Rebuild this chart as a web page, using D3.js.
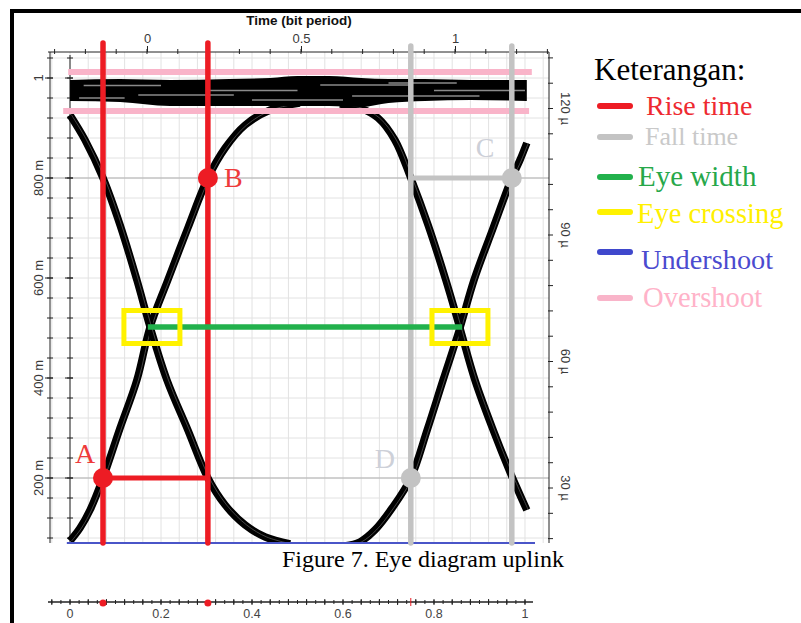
<!DOCTYPE html>
<html><head><meta charset="utf-8">
<script src="https://cdn.jsdelivr.net/npm/d3@7"></script>
<style>body{margin:0;background:#fff}svg{display:block}</style>
</head><body>
<script>
// ---------- data ----------
const bottomTickValues = [0, 0.2, 0.4, 0.6, 0.8, 1];
const topTickValues = [0, 0.5, 1];
const topTitle = "Time (bit period)";
const leftTickValues = [1, 0.8, 0.6, 0.4, 0.2];
const leftTickLabels = ["1", "800 m", "600 m", "400 m", "200 m"];
const rightTickValues = [120, 90, 60, 30];
const rightTickLabels = ["120 µ", "90 µ", "60 µ", "30 µ"];

// eye traces (time in bit-axis units, amplitude in volts)
const rise1T = [0, 0.022, 0.044, 0.0725, 0.110, 0.147, 0.176, 0.215, 0.259, 0.303, 0.341, 0.385, 0.440, 0.505];
const rise1V = [0.074, 0.100, 0.136, 0.200, 0.300, 0.396, 0.502, 0.596, 0.700, 0.800, 0.860, 0.906, 0.936, 0.950];
const fall1T = [0, 0.033, 0.0725, 0.110, 0.147, 0.176, 0.213, 0.259, 0.303, 0.341, 0.385, 0.429, 0.484];
const fall1V = [0.926, 0.876, 0.800, 0.706, 0.596, 0.502, 0.396, 0.296, 0.200, 0.146, 0.106, 0.082, 0.068];
const rise2T = [0.604, 0.637, 0.670, 0.708, 0.749, 0.785, 0.820, 0.857, 0.888, 0.930, 0.971, 0.989, 1.004];
const rise2V = [0.064, 0.072, 0.096, 0.140, 0.200, 0.296, 0.396, 0.500, 0.596, 0.700, 0.800, 0.836, 0.870];
const fall2T = [0.593, 0.637, 0.677, 0.714, 0.749, 0.787, 0.826, 0.857, 0.890, 0.930, 0.967, 1.004];
const fall2V = [0.948, 0.940, 0.920, 0.876, 0.800, 0.706, 0.596, 0.500, 0.396, 0.296, 0.212, 0.136];

const bandT     = [0, 0.11, 0.22, 0.35, 0.44, 0.50, 0.57, 0.64, 0.70, 0.78, 0.88, 1.004];
const bandUpper = [0.996, 0.998, 0.996, 0.998, 1.000, 1.004, 1.004, 1.000, 0.998, 0.998, 0.996, 0.996];
const bandLower = [0.954, 0.952, 0.944, 0.944, 0.944, 0.944, 0.944, 0.942, 0.950, 0.954, 0.956, 0.954];
const streakStart = [0.03, 0.15, 0.30, 0.55, 0.62, 0.80, 0.02, 0.40, 0.70];
const streakEnd   = [0.20, 0.36, 0.50, 0.75, 0.90, 1.00, 0.12, 0.60, 0.85];
const streakV     = [0.985, 0.966, 0.975, 0.986, 0.964, 0.975, 0.960, 0.956, 0.990];

// measurement markers
const riseTimeT = [0.0725, 0.303];
const fallTimeT = [0.749, 0.971];
const lowRef = 0.2, highRef = 0.8;
const crossingT = [0.171, 0.862];
const crossBoxT = [0.180, 0.857];
const crossingV = 0.502;
const overshootV = [1.012, 0.934];
const overshootStart = [-0.004, -0.015];
const overshootEnd = [1.015, 1.009];
const undershootV = 0.07;
const markerTop = 1.07;

const legendTitle = "Keterangan:";
const legendLabels = ["Rise time", "Fall time", "Eye width", "Eye crossing", "Undershoot", "Overshoot"];
const caption = "Figure 7. Eye diagram uplink";

// ---------- styles ----------
const C = {red:"#ed1c24", gray:"#c3c3c3", green:"#22b14c", yellow:"#fff200", blue:"#3f48cc", pink:"#f9b4c9"};
const legendColors = [C.red, C.gray, C.green, C.yellow, C.blue, C.pink];
const legendTextColors = ["#ee2a30", "#c9c9c9", "#27a84a", "#fff000", "#4b4bcf", "#ffb3c9"];

const W = 801, H = 623;
const svg = d3.select("body").append("svg").attr("width", W).attr("height", H);
const sans = "'Liberation Sans', Arial, sans-serif";
const serif = "'Liberation Serif', 'Times New Roman', serif";

// scales
const xB = d3.scaleLinear().domain([-0.0484, 1.0176]).range([48, 533]);
const xT = d3.scaleLinear().domain([-0.3214, 1.3052]).range([48, 549]);
const yL = d3.scaleLinear().domain([0.07, 1.052]).range([543, 52]);
const yR = d3.scaleLinear().domain([16.96, 133.4]).range([543, 52]);
const plot = {x0: 50, x1: 549, y0: 52, y1: 543};

// outer frame
svg.append("line").attr("x1", 10).attr("x2", W).attr("y1", 11).attr("y2", 11).attr("stroke", "#000").attr("stroke-width", 4);
svg.append("line").attr("x1", 12).attr("x2", 12).attr("y1", 9).attr("y2", H).attr("stroke", "#000").attr("stroke-width", 4);

// grid
const gGrid = svg.append("g");
const vGrid = d3.range(-1, 27).map(i => i * 0.04);
gGrid.selectAll("line.v").data(vGrid).join("line")
  .attr("x1", d => xB(d)).attr("x2", d => xB(d)).attr("y1", plot.y0).attr("y2", plot.y1)
  .attr("stroke", "#e2e2e2").attr("stroke-width", 1);
const hGrid = d3.range(2, 27).map(i => i * 0.04);
gGrid.selectAll("line.h").data(hGrid).join("line")
  .attr("x1", plot.x0).attr("x2", plot.x1).attr("y1", d => yL(d)).attr("y2", d => yL(d))
  .attr("stroke", "#e2e2e2").attr("stroke-width", 1);
gGrid.selectAll("line.ref").data([lowRef, highRef]).join("line")
  .attr("x1", plot.x0).attr("x2", plot.x1).attr("y1", d => yL(d)).attr("y2", d => yL(d))
  .attr("stroke", "#b0b0b0").attr("stroke-width", 1);

// axes
const axisColor = "#222";
const labelColor = "#3a3a3a";
// top
const gTop = svg.append("g").attr("transform", `translate(0,${plot.y0})`);
gTop.call(d3.axisTop(xT).tickValues(topTickValues).tickSize(6).tickFormat(d3.format("")))
  .call(g => g.select(".domain").attr("stroke", axisColor).attr("d", `M${xT.range()[0]},0H${xT.range()[1]}`))
  .call(g => g.selectAll(".tick line").attr("stroke", axisColor))
  .call(g => g.selectAll(".tick text").attr("font-family", sans).attr("font-size", 13).attr("fill", labelColor).attr("y", -9));
gTop.selectAll("line.minor").data(d3.range(-3, 14).map(i => i / 10)).join("line")
  .attr("x1", d => xT(d)).attr("x2", d => xT(d)).attr("y1", -3).attr("y2", 2).attr("stroke", axisColor);
svg.append("text").attr("x", 299).attr("y", 25).attr("text-anchor", "middle")
  .attr("font-family", sans).attr("font-weight", "bold").attr("font-size", 13.5).attr("fill", "#111").text(topTitle);

// left (outer + inner)
const leftTicks = d3.range(2, 27).map(i => i * 0.04);
[50, 70].forEach((x, k) => {
  const g = svg.append("g");
  g.append("line").attr("x1", x).attr("x2", x).attr("y1", k ? 55 : plot.y0).attr("y2", plot.y1).attr("stroke", axisColor);
  g.selectAll("line.t").data(leftTicks).join("line")
    .attr("x1", x - 3).attr("x2", x + 3).attr("y1", d => yL(d)).attr("y2", d => yL(d)).attr("stroke", axisColor);
  g.selectAll("line.m").data(leftTickValues).join("line")
    .attr("x1", x - 5).attr("x2", x + 3).attr("y1", d => yL(d)).attr("y2", d => yL(d)).attr("stroke", axisColor);
});
svg.append("g").selectAll("text").data(leftTickValues).join("text")
  .attr("transform", d => `translate(38,${yL(d)}) rotate(-90)`)
  .attr("text-anchor", "middle").attr("dy", "0.35em")
  .attr("font-family", sans).attr("font-size", 13).attr("fill", labelColor)
  .text((d, i) => leftTickLabels[i]);

// right
const gRight = svg.append("g");
gRight.append("line").attr("x1", plot.x1).attr("x2", plot.x1).attr("y1", plot.y0).attr("y2", plot.y1).attr("stroke", axisColor);
gRight.selectAll("line.t").data(d3.range(3, 23).map(i => i * 6)).join("line")
  .attr("x1", plot.x1 - 1).attr("x2", plot.x1 + 4).attr("y1", d => yR(d)).attr("y2", d => yR(d)).attr("stroke", axisColor);
gRight.selectAll("text").data(rightTickValues).join("text")
  .attr("transform", d => `translate(566,${yR(d)}) rotate(90)`)
  .attr("text-anchor", "middle").attr("dy", "0.35em")
  .attr("font-family", sans).attr("font-size", 13).attr("fill", labelColor)
  .text((d, i) => rightTickLabels[i]);

// bottom axis (separate strip)
const gBot = svg.append("g").attr("transform", "translate(0,602)");
gBot.append("line").attr("x1", 48).attr("x2", 533).attr("y1", 0).attr("y2", 0).attr("stroke", axisColor).attr("stroke-width", 1.5);
gBot.selectAll("line.t").data(d3.range(-2, 51).map(i => i * 0.02)).join("line")
  .attr("x1", d => xB(d)).attr("x2", d => xB(d)).attr("y1", -2).attr("y2", 2).attr("stroke", axisColor);
gBot.selectAll("line.m").data(d3.range(-1, 26).map(i => i * 0.04)).join("line")
  .attr("x1", d => xB(d)).attr("x2", d => xB(d)).attr("y1", -3).attr("y2", 3).attr("stroke", axisColor);
gBot.selectAll("text").data(bottomTickValues).join("text")
  .attr("x", d => xB(d)).attr("y", 15.5).attr("text-anchor", "middle")
  .attr("font-family", sans).attr("font-size", 12.5).attr("fill", "#444")
  .text(d => d3.format("")(d));
gBot.selectAll("circle").data(riseTimeT).join("circle")
  .attr("cx", d => xB(d)).attr("cy", 1).attr("r", 3.5).attr("fill", C.red);
gBot.append("line").attr("x1", xB(fallTimeT[0])).attr("x2", xB(fallTimeT[0])).attr("y1", -4).attr("y2", 4).attr("stroke", C.red).attr("stroke-width", 1);

// ---------- eye traces ----------
svg.append("clipPath").attr("id", "clip").append("rect")
  .attr("x", plot.x0).attr("y", plot.y0).attr("width", plot.x1 - plot.x0).attr("height", plot.y1 - plot.y0);
const gEye = svg.append("g").attr("clip-path", "url(#clip)");
const line = d3.line().x(d => xB(d[0])).y(d => yL(d[1])).curve(d3.curveCatmullRom);
const traces = [[rise1T, rise1V], [fall1T, fall1V], [rise2T, rise2V], [fall2T, fall2V]];
traces.forEach(([T, V]) => {
  const pts = T.map((t, i) => [t, V[i]]);
  gEye.append("path").attr("d", line(pts)).attr("fill", "none").attr("stroke", "#000").attr("stroke-width", 7.5);
  gEye.append("path").attr("d", line(pts)).attr("fill", "none").attr("stroke", "#555").attr("stroke-width", 0.8)
    .attr("transform", "translate(1.5,0)");
});
const area = d3.area().x(d => xB(d[0])).y0(d => yL(d[1])).y1(d => yL(d[2])).curve(d3.curveMonotoneX);
gEye.append("path").attr("d", area(bandT.map((t, i) => [t, bandLower[i], bandUpper[i]]))).attr("fill", "#000");
gEye.selectAll("line.streak").data(streakV).join("line")
  .attr("x1", (d, i) => xB(streakStart[i])).attr("x2", (d, i) => xB(streakEnd[i]))
  .attr("y1", d => yL(d)).attr("y2", d => yL(d)).attr("stroke", "#8a8a8a").attr("stroke-width", 1.6);

// ---------- measurement overlays ----------
const gM = svg.append("g");
// overshoot
gM.selectAll("line.os").data(overshootV).join("line")
  .attr("x1", (d, i) => xB(overshootStart[i])).attr("x2", (d, i) => xB(overshootEnd[i]))
  .attr("y1", d => yL(d)).attr("y2", d => yL(d)).attr("stroke", C.pink).attr("stroke-width", 6);
// undershoot
gM.append("line").attr("x1", xB(-0.007)).attr("x2", xB(1.022)).attr("y1", yL(undershootV)).attr("y2", yL(undershootV))
  .attr("stroke", "#4a55c8").attr("stroke-width", 2);
// rise time
gM.selectAll("line.rt").data(riseTimeT).join("line")
  .attr("x1", d => xB(d)).attr("x2", d => xB(d)).attr("y1", yL(markerTop)).attr("y2", yL(undershootV))
  .attr("stroke", C.red).attr("stroke-width", 5.5).attr("stroke-linecap", "round");
gM.append("line").attr("x1", xB(riseTimeT[0])).attr("x2", xB(riseTimeT[1])).attr("y1", yL(lowRef)).attr("y2", yL(lowRef))
  .attr("stroke", C.red).attr("stroke-width", 5);
// fall time
gM.selectAll("line.ft").data(fallTimeT).join("line")
  .attr("x1", d => xB(d)).attr("x2", d => xB(d)).attr("y1", yL(markerTop - 0.006)).attr("y2", yL(undershootV))
  .attr("stroke", C.gray).attr("stroke-width", 5.5).attr("stroke-linecap", "round");
gM.append("line").attr("x1", xB(fallTimeT[0])).attr("x2", xB(fallTimeT[1])).attr("y1", yL(highRef)).attr("y2", yL(highRef))
  .attr("stroke", C.gray).attr("stroke-width", 5);
// eye width
gM.append("line").attr("x1", xB(crossingT[0])).attr("x2", xB(crossingT[1])).attr("y1", yL(crossingV)).attr("y2", yL(crossingV))
  .attr("stroke", C.green).attr("stroke-width", 5.5);
// eye crossing boxes
gM.selectAll("rect.ec").data(crossBoxT).join("rect")
  .attr("x", d => xB(d) - 28).attr("y", yL(crossingV) - 16.5).attr("width", 56).attr("height", 33)
  .attr("fill", "none").attr("stroke", C.yellow).attr("stroke-width", 5);
// points
const pts = [
  {t: riseTimeT[0], v: lowRef, c: C.red, lab: "A", lx: -28, ly: -15, lc: "#ee3a3a"},
  {t: riseTimeT[1], v: highRef, c: C.red, lab: "B", lx: 16, ly: 9, lc: "#ee3a3a"},
  {t: fallTimeT[1], v: highRef, c: C.gray, lab: "C", lx: -36, ly: -21, lc: "#cdd0d8"},
  {t: fallTimeT[0], v: lowRef, c: C.gray, lab: "D", lx: -36, ly: -10, lc: "#cdd0d8"}
];
gM.selectAll("circle").data(pts).join("circle")
  .attr("cx", d => xB(d.t)).attr("cy", d => yL(d.v)).attr("r", 10).attr("fill", d => d.c);
gM.selectAll("text").data(pts).join("text")
  .attr("x", d => xB(d.t) + d.lx).attr("y", d => yL(d.v) + d.ly)
  .attr("font-family", serif).attr("font-size", 28).attr("fill", d => d.lc).text(d => d.lab);

// caption
svg.append("text").attr("x", 282).attr("y", 567).attr("font-family", serif).attr("font-size", 24).attr("fill", "#000").text(caption);

// legend
const gLeg = svg.append("g");
gLeg.append("text").attr("x", 594).attr("y", 80).attr("font-family", serif).attr("font-size", 31).attr("fill", "#000").text(legendTitle);
const legLineY = [106, 137, 177, 212, 252, 298];
const legTextX = [646, 645, 638, 637, 641, 643];
const legTextY = [115, 145, 186, 223, 269, 307];
const legSize = [28, 26, 29, 28.5, 28.3, 28.6];
legendLabels.forEach((lab, i) => {
  gLeg.append("line").attr("x1", 600).attr("x2", 630).attr("y1", legLineY[i]).attr("y2", legLineY[i])
    .attr("stroke", legendColors[i]).attr("stroke-width", 6).attr("stroke-linecap", "round");
  gLeg.append("text").attr("x", legTextX[i]).attr("y", legTextY[i]).attr("font-family", serif)
    .attr("font-size", legSize[i]).attr("fill", legendTextColors[i]).text(lab);
});
</script>
</body></html>
